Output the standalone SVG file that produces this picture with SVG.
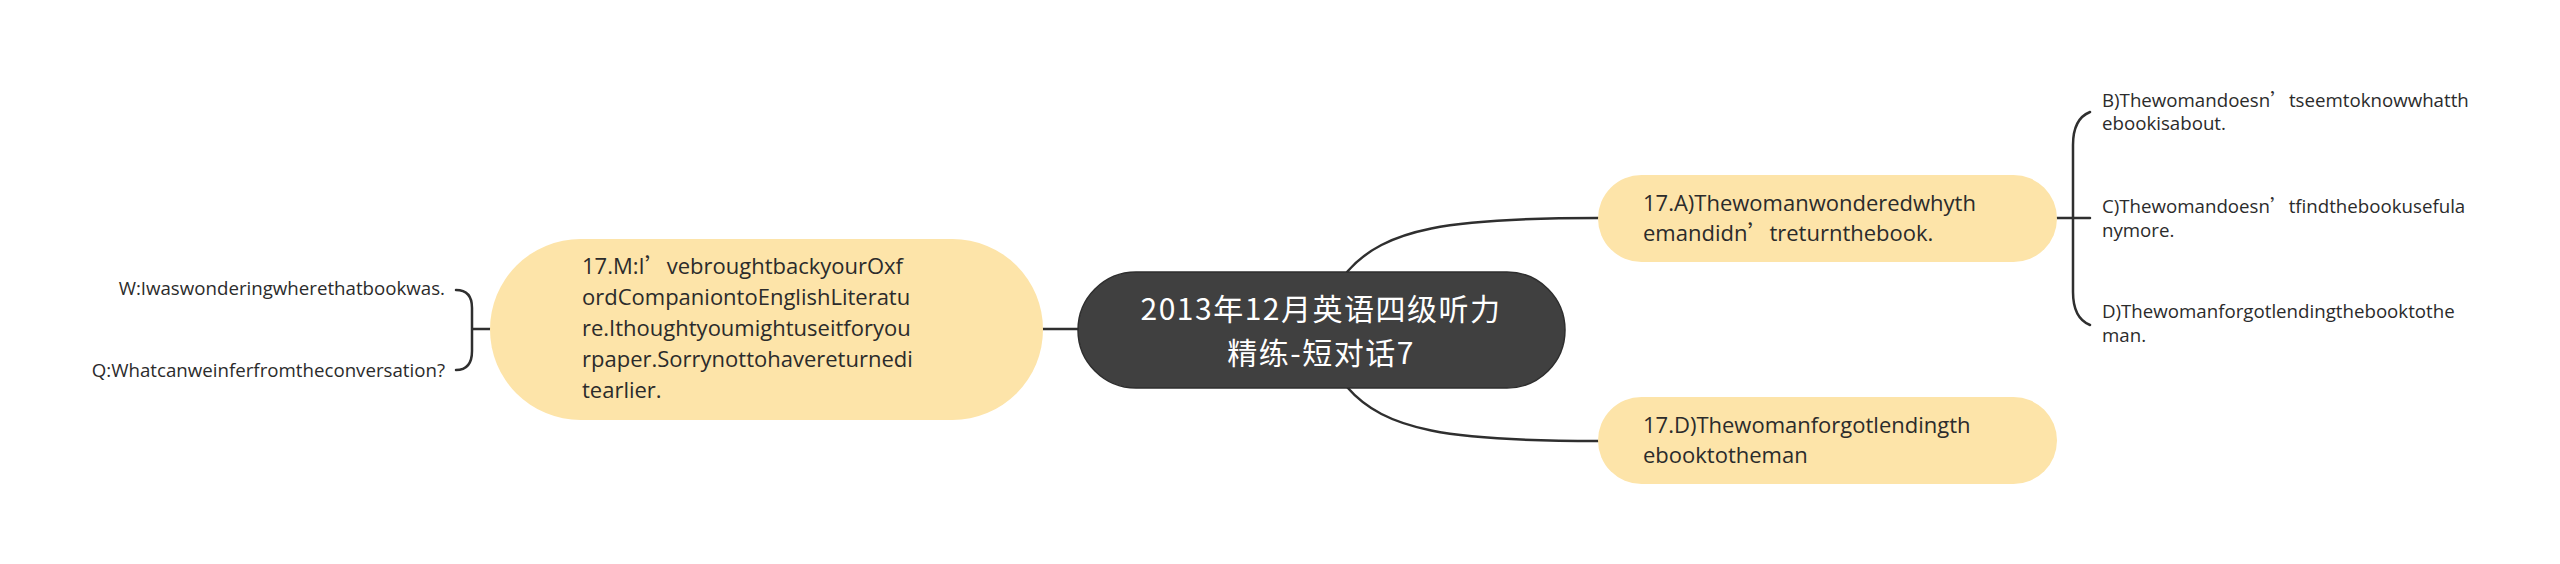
<svg xmlns="http://www.w3.org/2000/svg" width="2560" height="564" viewBox="0 0 2560 564">
<style>
.bg{fill:#ffffff}
.sub{fill:#fde4a9}
.root{fill:#404040;stroke:#2e2e2e;stroke-width:1.5}
.ln{fill:none;stroke:#2f2f2f;stroke-width:2.5;stroke-linecap:round}
.rt{font-family:"Noto Sans CJK SC","Noto Sans",sans-serif;font-size:30px;letter-spacing:1.5px;fill:#ffffff;text-anchor:middle}
.nt{font-family:"Open Sans","Noto Sans CJK SC",sans-serif;font-size:22px;fill:#2b2b2b}
.lt{font-family:"Open Sans","Noto Sans CJK SC",sans-serif;font-size:18.7px;fill:#2b2b2b}
.q{font-family:"Noto Sans CJK SC",sans-serif}
</style>
<rect class="bg" x="0" y="0" width="2560" height="564"/>
<g id="connectors">
<path class="ln" d="M1043 329 H1078"/>
<path class="ln" d="M1347 272 C1385 228 1450 218 1598 218"/>
<path class="ln" d="M1347 387 C1385 431 1450 441 1598 441"/>
<path class="ln" d="M473 329 H490"/>
<path class="ln" d="M456 290 C467 290 472 296 472 308 V351 C472 363 467 370 456 370"/>
<path class="ln" d="M2057 218 H2090"/>
<path class="ln" d="M2090 112 C2080 116 2073 126 2073 145 V292 C2073 311 2080 321 2090 325"/>
</g>
<g id="root">
<rect class="root" x="1078" y="272" width="487" height="116" rx="58"/>
<text class="rt"><tspan x="1321" y="320">2013年12月英语四级听力</tspan><tspan x="1321" y="364">精练-短对话7</tspan></text>
</g>
<g id="node-m">
<rect class="sub" x="490" y="239" width="553" height="181" rx="90.5"/>
<text class="nt" x="582" y="274">17.M:I<tspan class="q">’</tspan>vebroughtbackyourOxf</text>
<text class="nt" x="582" y="305">ordCompaniontoEnglishLiteratu</text>
<text class="nt" x="582" y="336">re.Ithoughtyoumightuseitforyou</text>
<text class="nt" x="582" y="367">rpaper.Sorrynottohavereturnedi</text>
<text class="nt" x="582" y="398">tearlier.</text>
</g>
<g id="leaf-w">
<text class="lt" x="445" y="295" text-anchor="end">W:Iwaswonderingwherethatbookwas.</text>
</g>
<g id="leaf-q">
<text class="lt" x="445" y="377" text-anchor="end">Q:Whatcanweinferfromtheconversation?</text>
</g>
<g id="node-a">
<rect class="sub" x="1598" y="175" width="459" height="87" rx="43.5"/>
<text class="nt" x="1643" y="211">17.A)Thewomanwonderedwhyth</text>
<text class="nt" x="1643" y="241">emandidn<tspan class="q">’</tspan>treturnthebook.</text>
</g>
<g id="node-d">
<rect class="sub" x="1598" y="397" width="459" height="87" rx="43.5"/>
<text class="nt" x="1643" y="433">17.D)Thewomanforgotlendingth</text>
<text class="nt" x="1643" y="463">ebooktotheman</text>
</g>
<g id="leaf-b">
<text class="lt" x="2102" y="107">B)Thewomandoesn<tspan class="q">’</tspan>tseemtoknowwhatth</text>
<text class="lt" x="2102" y="130">ebookisabout.</text>
</g>
<g id="leaf-c">
<text class="lt" x="2102" y="213">C)Thewomandoesn<tspan class="q">’</tspan>tfindthebookusefula</text>
<text class="lt" x="2102" y="237">nymore.</text>
</g>
<g id="leaf-d">
<text class="lt" x="2102" y="318">D)Thewomanforgotlendingthebooktothe</text>
<text class="lt" x="2102" y="342">man.</text>
</g>
</svg>
